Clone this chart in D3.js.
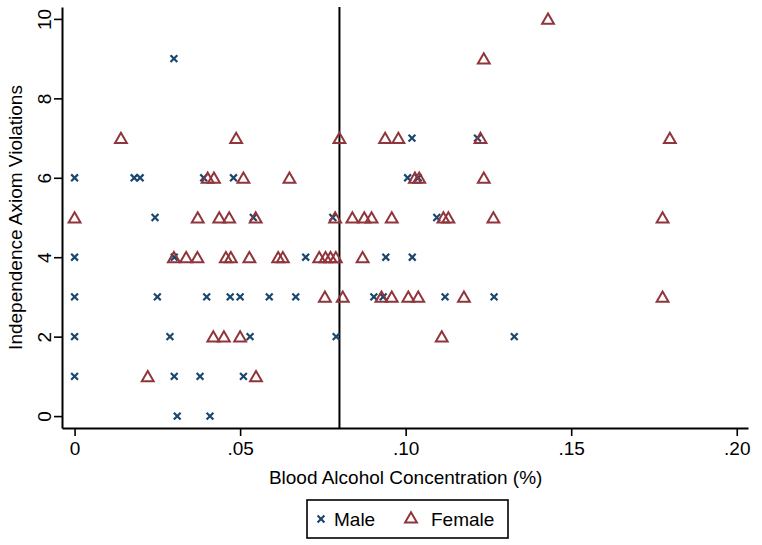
<!DOCTYPE html>
<html>
<head>
<meta charset="utf-8">
<script src="https://cdn.jsdelivr.net/npm/d3@7"></script>
<style>
  body { margin: 0; background: #fff; }
  text { font-family: "Liberation Sans", Arial, Helvetica, sans-serif; fill: #000; }
</style>
</head>
<body>
<svg id="chart" width="762" height="545"></svg>
<script>
'use strict';

//Male points: blood alcohol concentration and number of violations.
const maleBAC = [0.030,
  0.000, 0.018, 0.0198, 0.039, 0.048, 0.1006, 0.1038,
  0.1019, 0.1217,
  0.0243, 0.054, 0.078, 0.1094,
  0.000, 0.0301, 0.0698, 0.094, 0.102,
  0.000, 0.025, 0.0399, 0.047, 0.050, 0.0588, 0.0668, 0.0904, 0.0932, 0.1119, 0.1267,
  0.000, 0.0288, 0.053, 0.079, 0.1328,
  0.000, 0.0301, 0.0379, 0.051,
  0.031, 0.0409];
const maleViol = [9,
  6, 6, 6, 6, 6, 6, 6,
  7, 7,
  5, 5, 5, 5,
  4, 4, 4, 4, 4,
  3, 3, 3, 3, 3, 3, 3, 3, 3, 3, 3,
  2, 2, 2, 2, 2,
  1, 1, 1, 1,
  0, 0];

//Female points.
const femaleBAC = [0.143,
  0.1236,
  0.014, 0.0488, 0.080, 0.0938, 0.0978, 0.1226, 0.1798,
  0.0402, 0.0421, 0.051, 0.0649, 0.1028, 0.1041, 0.1236,
  0.000, 0.0372, 0.0437, 0.0467, 0.0547, 0.0787, 0.0839, 0.0875, 0.0897, 0.0958, 0.1114, 0.1129, 0.1265, 0.1776,
  0.030, 0.0337, 0.0371, 0.0457, 0.0472, 0.0528, 0.0615, 0.0629, 0.0739, 0.0758, 0.0773, 0.0789, 0.087,
  0.0756, 0.081, 0.0927, 0.0958, 0.1008, 0.1038, 0.1176, 0.1776,
  0.0419, 0.0451, 0.050, 0.1109,
  0.0221, 0.0548];
const femaleViol = [10,
  9,
  7, 7, 7, 7, 7, 7, 7,
  6, 6, 6, 6, 6, 6, 6,
  5, 5, 5, 5, 5, 5, 5, 5, 5, 5, 5, 5, 5, 5,
  4, 4, 4, 4, 4, 4, 4, 4, 4, 4, 4, 4, 4,
  3, 3, 3, 3, 3, 3, 3, 3,
  2, 2, 2, 2,
  1, 1];

const xTicks = [0, 0.05, 0.10, 0.15, 0.20];
const xTickLabels = ['0', '.05', '.10', '.15', '.20'];
const yTicks = [0, 2, 4, 6, 8, 10];
const legalLimit = 0.08;

const maleColor = '#1a476f';
const femaleColor = '#90353b';

const svg = d3.select('#chart');
const margin = {top: 7, right: 14, bottom: 117, left: 62};
const width = 762, height = 545;
const innerWidth = width - margin.left - margin.right;
const innerHeight = height - margin.top - margin.bottom;

const xScale = d3.scaleLinear().domain([-0.0038, 0.2034]).range([0, innerWidth]);
const yScale = d3.scaleLinear().domain([-0.3, 10.3]).range([innerHeight, 0]);

const g = svg.append('g').attr('transform', `translate(${margin.left},${margin.top})`);

//Axes.
const xAxis = d3.axisBottom(xScale).tickValues(xTicks)
  .tickFormat((d, i) => xTickLabels[i]).tickSize(8).tickPadding(6).tickSizeOuter(0);
const gx = g.append('g')
  .attr('transform', `translate(0,${innerHeight})`)
  .call(xAxis);
gx.select('.domain').attr('stroke-width', 2);
gx.selectAll('.tick line').attr('stroke-width', 1.6);
gx.selectAll('.tick text').style('font-size', '19px').attr('fill', '#000');

const yAxis = d3.axisLeft(yScale).tickValues(yTicks).tickSize(8).tickSizeOuter(0);
const gy = g.append('g').call(yAxis);
gy.select('.domain').attr('stroke-width', 2);
gy.selectAll('.tick line').attr('stroke-width', 1.6);
gy.selectAll('.tick text')
  .style('font-size', '19px').attr('fill', '#000')
  .attr('text-anchor', 'middle')
  .attr('x', null).attr('dy', null)
  .attr('transform', 'translate(-11,0) rotate(-90)')
  .attr('y', 0);

//Axis titles.
g.append('text')
  .attr('x', (xScale(0) + xScale(0.2)) / 2)
  .attr('y', innerHeight + 56)
  .attr('text-anchor', 'middle')
  .style('font-size', '19px')
  .text('Blood Alcohol Concentration (%)');
g.append('text')
  .attr('transform', `translate(${-40},${(yScale(0) + yScale(10)) / 2}) rotate(-90)`)
  .attr('text-anchor', 'middle')
  .style('font-size', '19px')
  .text('Independence Axiom Violations');

//Vertical line at the legal limit.
g.append('line')
  .attr('x1', xScale(legalLimit)).attr('x2', xScale(legalLimit))
  .attr('y1', 0).attr('y2', innerHeight)
  .attr('stroke', '#000').attr('stroke-width', 2);

const crossPath = d3.symbol(d3.symbolX, 32)();
const triPath = d3.symbol(d3.symbolTriangle2, 100)();

//Male markers.
g.selectAll('.male')
  .data(maleBAC.map((d, i) => ({x: d, y: maleViol[i]})))
  .enter()
  .append('path')
  .attr('class', 'male')
  .attr('d', crossPath)
  .attr('transform', (d) => `translate(${xScale(d.x)},${yScale(d.y)})`)
  .attr('fill', 'none')
  .attr('stroke', maleColor)
  .attr('stroke-width', 2.2);

//Female markers.
g.selectAll('.female')
  .data(femaleBAC.map((d, i) => ({x: d, y: femaleViol[i]})))
  .enter()
  .append('path')
  .attr('class', 'female')
  .attr('d', triPath)
  .attr('transform', (d) => `translate(${xScale(d.x)},${yScale(d.y) + 1.5})`)
  .attr('fill', 'none')
  .attr('stroke', femaleColor)
  .attr('stroke-width', 2);

//Legend.
const lg = svg.append('g').attr('transform', 'translate(307,500)');
lg.append('rect')
  .attr('width', 201).attr('height', 38)
  .attr('fill', '#fff').attr('stroke', '#000').attr('stroke-width', 1.6);
lg.append('path').attr('d', crossPath)
  .attr('transform', 'translate(14,19)')
  .attr('fill', 'none').attr('stroke', maleColor).attr('stroke-width', 2.2);
lg.append('text').attr('x', 27).attr('y', 26).style('font-size', '19px').text('Male');
lg.append('path').attr('d', triPath)
  .attr('transform', 'translate(104,19)')
  .attr('fill', 'none').attr('stroke', femaleColor).attr('stroke-width', 2);
lg.append('text').attr('x', 124).attr('y', 26).style('font-size', '19px').text('Female');
</script>
</body>
</html>
